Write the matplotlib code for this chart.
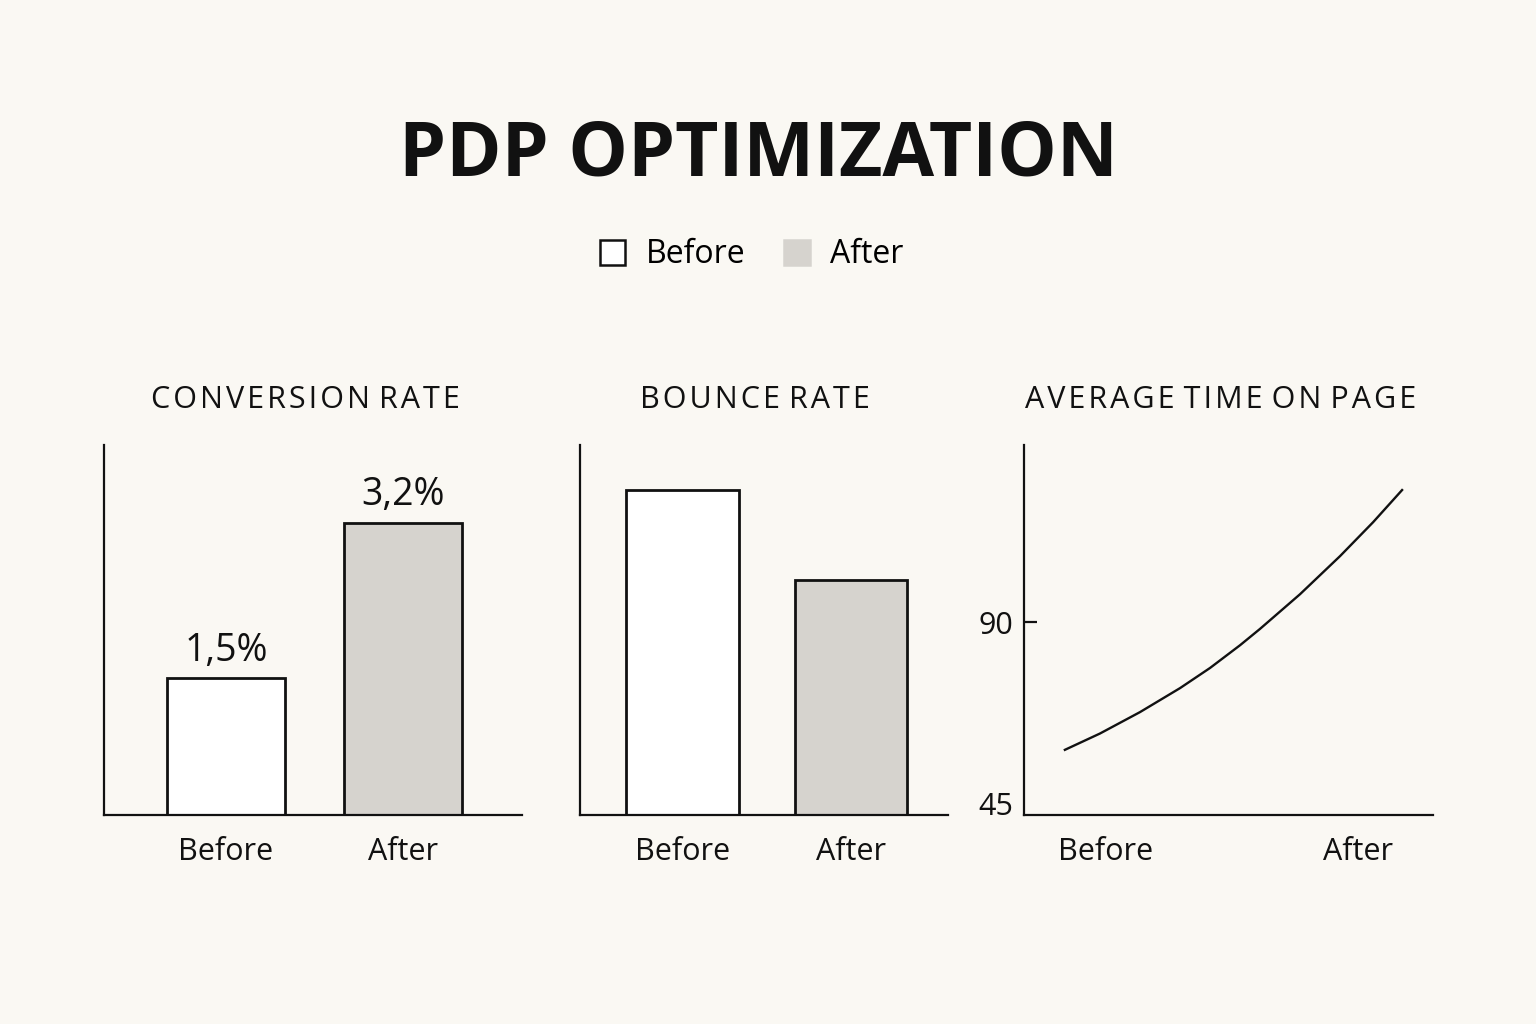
import matplotlib
matplotlib.use("Agg")
import matplotlib.pyplot as plt
from matplotlib.patches import Patch

# data
periods = ["Before", "After"]
conversion = [1.5, 3.2]
conversion_labels = ["1,5%", "3,2%"]
bounce = [65, 47]
time_x = [-0.163, -0.024, 0.135, 0.294, 0.413, 0.532, 0.611, 0.770, 0.929, 1.060, 1.175]
time_y = [60.2, 64.0, 69.0, 74.6, 79.3, 84.6, 88.4, 96.5, 105.4, 113.3, 120.8]
time_ticks = [45, 90]

bg = "#faf8f3"
grey = "#d6d3ce"
ink = "#111111"
font = "Open Sans"

plt.rcParams['font.family'] = [font, 'DejaVu Sans']


def spaced(s):
    # loose letter spacing for the panel headings
    return "\u200a".join(s).replace("\u200a \u200a", "\u200a\u200a\u200a")


fig = plt.figure(figsize=(15.36, 10.24), dpi=100)
fig.patch.set_facecolor(bg)

fig.text(0.4935, 0.848, "PDP OPTIMIZATION", ha="center", va="center",
         fontsize=54, fontweight="bold", color=ink)

handles = [Patch(facecolor="white", edgecolor=ink, linewidth=1.8, label="Before"),
           Patch(facecolor=grey, edgecolor=grey, linewidth=1.8, label="After")]
fig.legend(handles=handles, loc="center", bbox_to_anchor=(0.4895, 0.751), ncol=2,
           frameon=False, fontsize=23, handlelength=0.8, handleheight=0.8,
           handletextpad=0.65, columnspacing=1.2)


def style(ax):
    ax.set_facecolor(bg)
    for s in ["top", "right"]:
        ax.spines[s].set_visible(False)
    for s in ["left", "bottom"]:
        ax.spines[s].set_linewidth(1.6)
        ax.spines[s].set_color(ink)
    ax.tick_params(axis="x", length=0, pad=16, labelsize=22, colors=ink)


bottom, height = 0.2041, 0.3613
title_y = 0.609

# conversion rate
ax1 = fig.add_axes([0.0677, bottom, 0.2721, height])
style(ax1)
x = [0, 1]
ax1.bar(x, conversion, width=0.667, color=["white", grey], edgecolor=ink, linewidth=2)
for xi, v, lab in zip(x, conversion, conversion_labels):
    ax1.text(xi, v + 0.09, lab, ha="center", va="bottom", fontsize=27, color=ink)
ax1.set_xlim(-0.689, 1.672)
ax1.set_ylim(0, 4.05)
ax1.set_xticks(x, periods)
ax1.set_yticks([])
fig.text(0.199, title_y, spaced("CONVERSION RATE"), ha="center", va="center",
         fontsize=22, color=ink)

# bounce rate
ax2 = fig.add_axes([0.3776, bottom, 0.2396, height])
style(ax2)
ax2.bar(x, bounce, width=0.67, color=["white", grey], edgecolor=ink, linewidth=2)
ax2.set_xlim(-0.608, 1.576)
ax2.set_ylim(0, 74)
ax2.set_xticks(x, periods)
ax2.set_yticks([])
fig.text(0.4915, title_y, spaced("BOUNCE RATE"), ha="center", va="center",
         fontsize=22, color=ink)

# average time on page
ax3 = fig.add_axes([0.6667, bottom, 0.2663, height])
style(ax3)
ax3.plot(time_x, time_y, color=ink, linewidth=1.7, solid_joinstyle="round")
ax3.set_xlim(-0.325, 1.298)
ax3.set_ylim(45, 131.3)
ax3.set_xticks(x, periods)
ax3.set_yticks(time_ticks, [str(t) for t in time_ticks])
ax3.tick_params(axis="y", direction="in", length=9, width=1.6, pad=8,
                labelsize=22, colors=ink)
ax3.yaxis.get_major_ticks()[0].tick1line.set_visible(False)
ax3.get_yticklabels()[0].set_va("baseline")
fig.text(0.7945, title_y, spaced("AVERAGE TIME ON PAGE"), ha="center", va="center",
         fontsize=22, color=ink)

fig.savefig("out.png", dpi=100, facecolor=bg)
